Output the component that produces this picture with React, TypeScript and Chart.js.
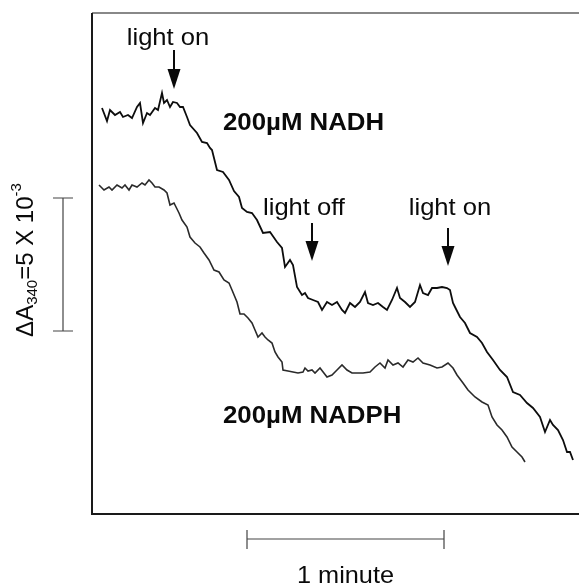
import React, { useEffect, useRef } from "react";
import { Chart, registerables } from "chart.js";

Chart.register(...registerables);

// Time in recorder units (1 minute = 197 units), signal in recorder units (ΔA 5e-3 = 133 units)
const nadhTrace: number[][] = [
  [10, 406], [15, 393], [18, 404], [23, 399], [28, 402], [31, 397], [36, 399], [40, 396],
  [45, 407], [48, 411], [51, 391], [55, 401], [58, 399], [63, 406], [66, 404], [70, 421],
  [72, 411], [75, 414], [78, 407], [81, 412], [85, 411], [88, 407], [91, 407], [95, 397],
  [98, 389], [105, 381], [110, 372], [115, 371], [118, 366], [120, 364], [125, 344], [131, 342],
  [137, 334], [142, 323], [147, 317], [150, 306], [155, 302], [160, 301], [165, 294], [171, 281],
  [178, 282], [185, 272], [190, 266], [193, 247], [198, 254], [201, 249], [205, 227], [210, 219],
  [213, 221], [216, 216], [221, 214], [226, 212], [230, 204], [235, 212], [240, 209], [245, 212],
  [250, 204], [253, 201], [258, 211], [263, 207], [268, 212], [273, 222], [276, 211], [281, 209],
  [286, 211], [291, 207], [295, 204], [300, 214], [305, 226], [308, 216], [313, 212], [318, 207],
  [323, 212], [328, 229], [331, 221], [336, 219], [340, 226], [345, 226], [350, 227], [355, 226],
  [358, 224], [361, 211], [363, 207], [368, 197], [373, 191], [378, 181], [385, 177], [390, 171],
  [395, 162], [401, 154], [408, 144], [415, 137], [421, 122], [428, 119], [435, 111], [441, 106],
  [448, 97], [453, 82], [458, 94], [461, 89], [466, 84], [471, 74], [475, 62], [478, 62], [481, 54],
];

const nadphTrace: number[][] = [
  [7, 329], [12, 324], [17, 327], [20, 324], [25, 329], [30, 326], [33, 329], [37, 324],
  [40, 329], [45, 327], [50, 331], [53, 329], [57, 334], [60, 331], [63, 327], [67, 327],
  [72, 324], [75, 321], [78, 309], [82, 311], [87, 301], [90, 294], [95, 287], [98, 277],
  [103, 271], [108, 267], [112, 261], [117, 254], [122, 244], [127, 242], [132, 234], [137, 231],
  [140, 224], [145, 212], [148, 200], [152, 200], [156, 196], [160, 191], [163, 184], [166, 177],
  [170, 181], [173, 177], [176, 174], [180, 171], [183, 162], [186, 157], [190, 152], [191, 144],
  [196, 143], [201, 142], [206, 141], [211, 142], [213, 146], [216, 143], [220, 144], [223, 141],
  [228, 146], [235, 137], [240, 139], [245, 144], [250, 149], [255, 144], [260, 141], [265, 141],
  [271, 141], [278, 142], [283, 147], [288, 151], [293, 146], [296, 154], [301, 149], [306, 151],
  [311, 147], [316, 154], [321, 152], [326, 156], [331, 151], [338, 149], [345, 146], [350, 147],
  [356, 151], [361, 146], [365, 139], [371, 131], [376, 124], [383, 117], [390, 112], [396, 109],
  [400, 97], [405, 89], [410, 84], [415, 77], [420, 67], [425, 62], [430, 57], [433, 52],
];

const traceLabels = ["200µM NADH", "200µM NADPH"];
const traceLabelTime = [131, 131];
const traceLabelSignal = [384, 91];

const arrowLabels = ["light on", "light off", "light on"];
const arrowTime = [82, 220, 356];
const arrowTop = [464, 291, 286];
const arrowTip = [425, 253, 248];
const arrowLabelTime = [76, 212, 358];
const arrowLabelSignal = [469, 299, 299];

const minuteBar = [155, 352];
const minuteLabel = "1 minute";
const absorbanceBar = [183, 316];

const X_MAX = 487;
const Y_MAX = 501;
const FONT = '"Liberation Sans", Arial, Helvetica, sans-serif';

function drawWideText(ctx: CanvasRenderingContext2D, text: string, x: number, y: number, sx: number) {
  ctx.save();
  ctx.translate(x, y);
  ctx.scale(sx, 1);
  ctx.fillText(text, 0, 0);
  ctx.restore();
}

const overlayPlugin = {
  id: "overlay",
  beforeDatasetsDraw(chart: any) {
    const { ctx, chartArea } = chart;
    const { left, right, top, bottom } = chartArea;
    ctx.save();
    ctx.lineWidth = 2;
    ctx.strokeStyle = "#888";
    ctx.beginPath();
    ctx.moveTo(left, top);
    ctx.lineTo(right, top);
    ctx.stroke();
    ctx.strokeStyle = "#1a1a1a";
    ctx.beginPath();
    ctx.moveTo(left, top);
    ctx.lineTo(left, bottom);
    ctx.lineTo(right, bottom);
    ctx.stroke();
    ctx.restore();
  },
  afterDraw(chart: any) {
    const { ctx } = chart;
    const xs = chart.scales.x;
    const ys = chart.scales.y;
    ctx.save();
    ctx.fillStyle = "#0a0a0a";
    ctx.strokeStyle = "#0a0a0a";

    // arrows + labels
    ctx.font = `24px ${FONT}`;
    ctx.textAlign = "center";
    ctx.textBaseline = "alphabetic";
    arrowLabels.forEach((lab, i) => {
      const x = xs.getPixelForValue(arrowTime[i]);
      const y0 = ys.getPixelForValue(arrowTop[i]);
      const y1 = ys.getPixelForValue(arrowTip[i]);
      ctx.lineWidth = 2;
      ctx.beginPath();
      ctx.moveTo(x, y0);
      ctx.lineTo(x, y1 - 15);
      ctx.stroke();
      ctx.beginPath();
      ctx.moveTo(x - 6.5, y1 - 20);
      ctx.lineTo(x + 6.5, y1 - 20);
      ctx.lineTo(x, y1);
      ctx.closePath();
      ctx.fill();
      drawWideText(ctx, lab, xs.getPixelForValue(arrowLabelTime[i]), ys.getPixelForValue(arrowLabelSignal[i]), 1.065);
    });

    // trace labels
    ctx.font = `bold 24px ${FONT}`;
    ctx.textAlign = "left";
    traceLabels.forEach((lab, i) => {
      drawWideText(ctx, lab, xs.getPixelForValue(traceLabelTime[i]), ys.getPixelForValue(traceLabelSignal[i]), 1.075);
    });

    // horizontal scale bar (1 minute)
    ctx.strokeStyle = "#444";
    ctx.lineWidth = 1.2;
    const bx0 = xs.getPixelForValue(minuteBar[0]);
    const bx1 = xs.getPixelForValue(minuteBar[1]);
    const by = 539;
    ctx.beginPath();
    ctx.moveTo(bx0, by);
    ctx.lineTo(bx1, by);
    ctx.moveTo(bx0, by - 9);
    ctx.lineTo(bx0, by + 10);
    ctx.moveTo(bx1, by - 9);
    ctx.lineTo(bx1, by + 10);
    ctx.stroke();
    ctx.font = `24px ${FONT}`;
    ctx.textAlign = "center";
    drawWideText(ctx, minuteLabel, (bx0 + bx1) / 2, 583, 1.055);

    // vertical scale bar (ΔA340)
    const vy0 = ys.getPixelForValue(absorbanceBar[0]);
    const vy1 = ys.getPixelForValue(absorbanceBar[1]);
    const vx = 63;
    ctx.beginPath();
    ctx.moveTo(vx, vy0);
    ctx.lineTo(vx, vy1);
    ctx.moveTo(vx - 10, vy0);
    ctx.lineTo(vx + 10, vy0);
    ctx.moveTo(vx - 10, vy1);
    ctx.lineTo(vx + 10, vy1);
    ctx.stroke();

    // rotated y label
    const segs = [
      { t: "ΔA", size: 24, dy: 0 },
      { t: "340", size: 15, dy: 4 },
      { t: "=5 X 10", size: 24, dy: 0 },
      { t: "-3", size: 15, dy: -12 },
    ];
    ctx.textAlign = "left";
    let total = 0;
    segs.forEach((s) => {
      ctx.font = `${s.size}px ${FONT}`;
      total += ctx.measureText(s.t).width;
    });
    ctx.translate(33, 260);
    ctx.rotate(-Math.PI / 2);
    let x = -total / 2;
    segs.forEach((s) => {
      ctx.font = `${s.size}px ${FONT}`;
      ctx.fillText(s.t, x, s.dy);
      x += ctx.measureText(s.t).width;
    });
    ctx.restore();
  },
};

export default function App() {
  const ref = useRef<HTMLCanvasElement | null>(null);
  useEffect(() => {
    if (!ref.current) return;
    const chart = new Chart(ref.current, {
      type: "line",
      data: {
        datasets: [
          {
            label: traceLabels[0],
            data: nadhTrace.map(([x, y]) => ({ x, y })),
            borderColor: "#0d0d0d",
            borderWidth: 1.8,
            pointRadius: 0,
            tension: 0,
            fill: false,
          },
          {
            label: traceLabels[1],
            data: nadphTrace.map(([x, y]) => ({ x, y })),
            borderColor: "#2a2a2a",
            borderWidth: 1.6,
            pointRadius: 0,
            tension: 0,
            fill: false,
          },
        ],
      },
      options: {
        animation: false,
        responsive: false,
        devicePixelRatio: 1,
        layout: { padding: { left: 92, top: 13, right: 0, bottom: 71 } },
        plugins: { legend: { display: false }, tooltip: { enabled: false } },
        scales: {
          x: { type: "linear", min: 0, max: X_MAX, display: false },
          y: { type: "linear", min: 0, max: Y_MAX, display: false },
        },
      },
      plugins: [overlayPlugin],
    });
    return () => chart.destroy();
  }, []);
  return (
    <div style={{ position: "absolute", left: 0, top: 0, width: 579, height: 585, background: "#fff" }}>
      <canvas ref={ref} width={579} height={585} style={{ display: "block" }} />
    </div>
  );
}
